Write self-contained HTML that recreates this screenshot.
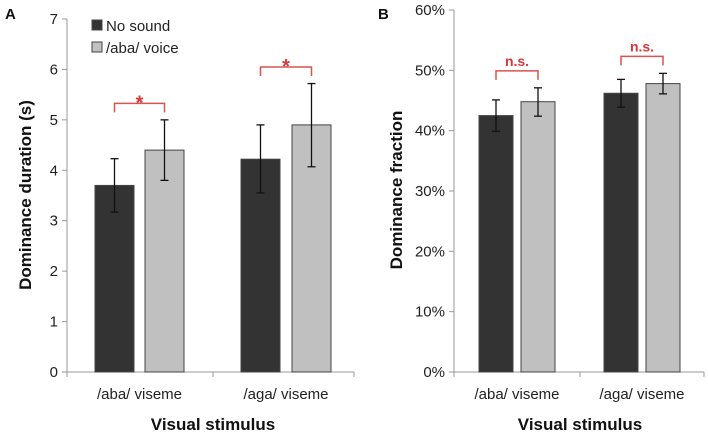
<!DOCTYPE html>
<html><head><meta charset="utf-8"><style>
html,body{margin:0;padding:0;background:#fff;}
svg{display:block;font-family:"Liberation Sans",Arial,sans-serif;}
</style></head><body>
<svg id="fig" width="708" height="435" viewBox="0 0 708 435"></svg>
<script>
const categories = ["/aba/ viseme", "/aga/ viseme"];
const seriesNames = ["No sound", "/aba/ voice"];
const durNoSound = [3.7, 4.22];
const durVoice = [4.4, 4.9];
const durNoSoundLo = [3.17, 3.55];
const durNoSoundHi = [4.23, 4.9];
const durVoiceLo = [3.8, 4.07];
const durVoiceHi = [5.0, 5.72];
const durTicks = [0, 1, 2, 3, 4, 5, 6, 7];
const fracNoSound = [42.5, 46.2];
const fracVoice = [44.8, 47.8];
const fracNoSoundLo = [39.9, 43.9];
const fracNoSoundHi = [45.1, 48.5];
const fracVoiceLo = [42.4, 46.1];
const fracVoiceHi = [47.1, 49.5];
const fracTicks = [0, 10, 20, 30, 40, 50, 60];
const sigA = ["*", "*"];
const sigB = ["n.s.", "n.s."];

const NS = "http://www.w3.org/2000/svg";
const svg = document.getElementById("fig");
function mk(tag, attrs, name, parent) {
  const e = document.createElementNS(NS, tag);
  for (const k in attrs) e.setAttribute(k, attrs[k]);
  
  
  (parent || svg).appendChild(e);
  return e;
}
function txt(s, attrs, name, parent) { const t = mk("text", attrs, name, parent); t.textContent = s; return t; }

function panel(cfg) {
  const g = mk("g", {}, cfg.id);
  const y = v => cfg.y0 - (v - cfg.min) / (cfg.max - cfg.min) * (cfg.y0 - cfg.y1);
  mk("line", {x1: cfg.ax, y1: cfg.y1, x2: cfg.ax, y2: cfg.y0, stroke: "#999", "stroke-width": 1}, "y-axis-line", g);
  mk("line", {x1: cfg.ax, y1: cfg.y0, x2: cfg.axEnd, y2: cfg.y0, stroke: "#999", "stroke-width": 1}, "x-axis-line", g);
  cfg.ticks.forEach(t => {
    mk("line", {x1: cfg.ax - 5, y1: y(t), x2: cfg.ax, y2: y(t), stroke: "#999"}, "y-tick", g);
    txt(cfg.fmt(t), {x: cfg.ax - 9, y: y(t) + 5, "text-anchor": "end", "font-size": 15, fill: "#222"}, "y-tick-label", g);
  });
  [cfg.ax, cfg.midTick, cfg.axEnd].forEach(xx => mk("line", {x1: xx, y1: cfg.y0, x2: xx, y2: cfg.y0 + 5, stroke: "#999"}, "x-tick", g));
  const series = [
    {v: cfg.a, lo: cfg.aLo, hi: cfg.aHi, fill: "#333333", name: "no-sound"},
    {v: cfg.b, lo: cfg.bLo, hi: cfg.bHi, fill: "#c0c0c0", name: "voice"}
  ];
  categories.forEach((c, i) => {
    series.forEach((s, j) => {
      const x0 = cfg.barX[i][j];
      const cx = x0 + cfg.bw / 2;
      mk("rect", {x: x0, y: y(s.v[i]), width: cfg.bw, height: cfg.y0 - y(s.v[i]), fill: s.fill, stroke: "#444", "stroke-width": 1}, "bar-" + s.name + "-" + (i + 1), g);
      mk("line", {x1: cx, y1: y(s.lo[i]), x2: cx, y2: y(s.hi[i]), stroke: "#111", "stroke-width": 1.3}, "error-bar", g);
      mk("line", {x1: cx - 4, y1: y(s.lo[i]), x2: cx + 4, y2: y(s.lo[i]), stroke: "#111", "stroke-width": 1.3}, "error-cap", g);
      mk("line", {x1: cx - 4, y1: y(s.hi[i]), x2: cx + 4, y2: y(s.hi[i]), stroke: "#111", "stroke-width": 1.3}, "error-cap", g);
    });
    const l = cfg.barX[i][0] + cfg.bw / 2, r = cfg.barX[i][1] + cfg.bw / 2;
    const by = y(Math.max(cfg.aHi[i], cfg.bHi[i])) - cfg.gap;
    mk("polyline", {points: `${l},${by + 9} ${l},${by} ${r},${by} ${r},${by + 9}`, fill: "none", stroke: "#d9534f", "stroke-width": 1.5}, "significance-bracket", g);
    txt(cfg.sig[i], {x: (l + r) / 2, y: by - cfg.sigOff, "text-anchor": "middle", "font-size": cfg.sigSize, "font-weight": "bold", fill: "#d9383a"}, "significance-label", g);
    txt(c, {x: (l + r) / 2, y: 399, "text-anchor": "middle", "font-size": 15, fill: "#222"}, "category-label", g);
  });
  txt(cfg.ytitle, {x: 0, y: 0, transform: `translate(${cfg.ytx},${cfg.yty}) rotate(-90)`, "text-anchor": "middle", "font-size": 17, "font-weight": "bold", fill: "#111"}, "y-axis-title", g);
  txt("Visual stimulus", {x: cfg.midTick, y: 430, "text-anchor": "middle", "font-size": 17, "font-weight": "bold", fill: "#111"}, "x-axis-title", g);
  txt(cfg.letter, {x: cfg.lx, y: 19, "font-size": 15, "font-weight": "bold", fill: "#111"}, "panel-label", g);
}

panel({id: "panel-a", letter: "A", lx: 5, ax: 67, axEnd: 354, midTick: 213, y0: 372, y1: 19, min: 0, max: 7,
  ticks: durTicks, fmt: t => String(t), bw: 39,
  barX: [[95, 145], [241, 292]],
  a: durNoSound, aLo: durNoSoundLo, aHi: durNoSoundHi, b: durVoice, bLo: durVoiceLo, bHi: durVoiceHi,
  sig: sigA, sigSize: 20, sigOff: -6, gap: 16.5, ytitle: "Dominance duration (s)", ytx: 31, yty: 195});

panel({id: "panel-b", letter: "B", lx: 378, ax: 454, axEnd: 704, midTick: 580, y0: 372, y1: 10, min: 0, max: 60,
  ticks: fracTicks, fmt: t => t + "%", bw: 34,
  barX: [[479, 521], [604, 646]],
  a: fracNoSound, aLo: fracNoSoundLo, aHi: fracNoSoundHi, b: fracVoice, bLo: fracVoiceLo, bHi: fracVoiceHi,
  sig: sigB, sigSize: 14, sigOff: 5, gap: 17, ytitle: "Dominance fraction", ytx: 402, yty: 190});

const leg = mk("g", {}, "legend");
seriesNames.forEach((n, i) => {
  const ly = 20 + i * 22;
  mk("rect", {x: 92, y: ly, width: 10, height: 10, fill: i ? "#c0c0c0" : "#333", stroke: "#444"}, "legend-swatch", leg);
  txt(n, {x: 106, y: ly + 11, "font-size": 15, fill: "#222"}, "legend-entry", leg);
});
</script>
</body></html>
